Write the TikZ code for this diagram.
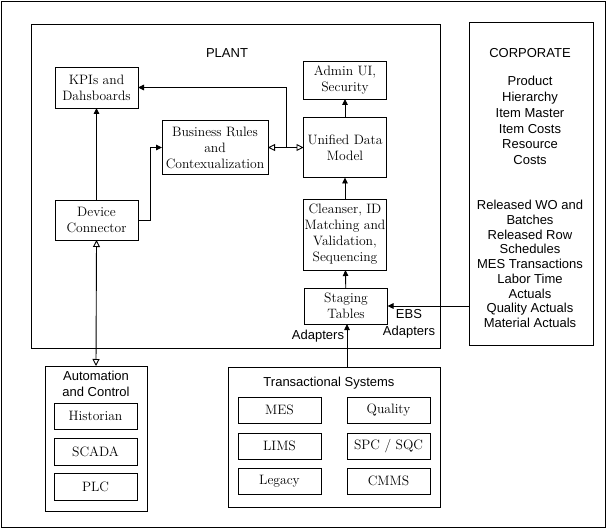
\documentclass[tikz,border=0pt]{standalone}
\usepackage{fontspec}
\setsansfont{Liberation Sans}
\usetikzlibrary{arrows.meta}
\begin{document}
\begin{tikzpicture}[x=1pt,y=-1pt,
  line width=0.9pt,
  every node/.style={inner sep=0pt, outer sep=0pt},
  sbox/.style={draw, font=\fontsize{13.6}{16}\selectfont, align=center},
  frame/.style={draw},
  lbl/.style={font=\sffamily\fontsize{13}{16}\selectfont, align=center},
  fa/.style={-{Triangle[length=6pt,width=5.5pt]}},
  oa/.style={{Triangle[open,length=7pt,width=7pt]}-{Triangle[open,length=7pt,width=7pt]}}
]
\useasboundingbox (0,0) rectangle (607,529);
% frames
\draw[frame] (1,1) rectangle (605,527);
\node[frame, minimum width=409pt, minimum height=324pt] (plant) at (235.5,186) {};
\node[frame, minimum width=124pt, minimum height=323pt] (corp) at (531,183.5) {};
\node[frame, minimum width=102pt, minimum height=145pt] (auto) at (96,438.5) {};
\node[frame, minimum width=212pt, minimum height=140pt] (trans) at (334,437) {};
% labels
\node[lbl] (plantlbl) at (227,53) {PLANT};
\node[lbl] (corplbl) at (530,53) {CORPORATE};
\node[lbl, font=\sffamily\fontsize{13}{15.8}\selectfont] (corp1) at (530,120.5) {Product\\Hierarchy\\Item Master\\Item Costs\\Resource\\Costs};
\node[lbl, font=\sffamily\fontsize{13}{14.75}\selectfont] (corp2) at (530,264) {Released WO and\\Batches\\Released Row\\Schedules\\MES Transactions\\Labor Time\\Actuals\\Quality Actuals\\Material Actuals};
\node[lbl] (autolbl) at (96,384) {Automation\\and Control};
\node[lbl] (translbl) at (329,383) {Transactional Systems};
\node[lbl] (adp) at (318,336) {Adapters};
\node[lbl, font=\sffamily\fontsize{13}{17}\selectfont] (ebs) at (409,323.5) {EBS\\Adapters};
% plant boxes
\node[sbox, minimum width=83pt, minimum height=41pt] (kpi) at (96.5,87.5) {KPIs and\\Dahsboards};
\node[sbox, minimum width=106pt, minimum height=54pt] (br) at (215,147.5) {Business Rules\\and\\Contexualization};
\node[sbox, minimum width=83pt, minimum height=40pt] (dc) at (96.5,220) {Device\\Connector};
\node[sbox, minimum width=83pt, minimum height=38pt] (admin) at (345,80) {Admin UI,\\Security};
\node[sbox, minimum width=83pt, minimum height=60pt] (udm) at (345,147.5) {Unified Data\\Model};
\node[sbox, minimum width=83pt, minimum height=71pt] (cl) at (345,234.5) {Cleanser, ID\\Matching and\\Validation,\\Sequencing};
\node[sbox, minimum width=83pt, minimum height=36pt] (st) at (346,306) {Staging\\Tables};
% automation boxes
\node[sbox, minimum width=83pt, minimum height=26pt] (hist) at (95.5,416) {Historian};
\node[sbox, minimum width=83pt, minimum height=27pt] (scada) at (95.5,451.5) {SCADA};
\node[sbox, minimum width=83pt, minimum height=27pt] (plc) at (95.5,486.5) {PLC};
% transactional boxes
\node[sbox, minimum width=83pt, minimum height=26pt] (mes) at (279.5,410) {MES};
\node[sbox, minimum width=83pt, minimum height=26pt] (qual) at (388.5,410) {Quality};
\node[sbox, minimum width=83pt, minimum height=26pt] (lims) at (279.5,446) {LIMS};
\node[sbox, minimum width=83pt, minimum height=26pt] (spc) at (388.5,446) {SPC / SQC};
\node[sbox, minimum width=83pt, minimum height=26pt] (leg) at (279.5,481) {Legacy};
\node[sbox, minimum width=83pt, minimum height=26pt] (cmms) at (388.5,481) {CMMS};
% connectors
\coordinate (j) at (286,147.5);
\coordinate (dcb) at (150,220);
\coordinate (tx) at (347,367);
\coordinate (sx) at (347,324);
\draw[fa] (udm) -- (admin);
\draw[fa] (cl) -- (udm);
\draw[fa] (st) -- (cl);
\draw[fa] (tx) -- (sx);
\draw[fa] (st.east -| corp.west) -- (st.east);
\draw[oa] (br.east) -- (udm.west);
\draw[fa] (j) |- (kpi.east);
\draw[fa] (dc) -- (kpi);
\draw[fa] (dc.east) -- (dcb) |- (br.west);
\draw[oa] (dc.south) -- (auto.north);
\end{tikzpicture}
\end{document}
